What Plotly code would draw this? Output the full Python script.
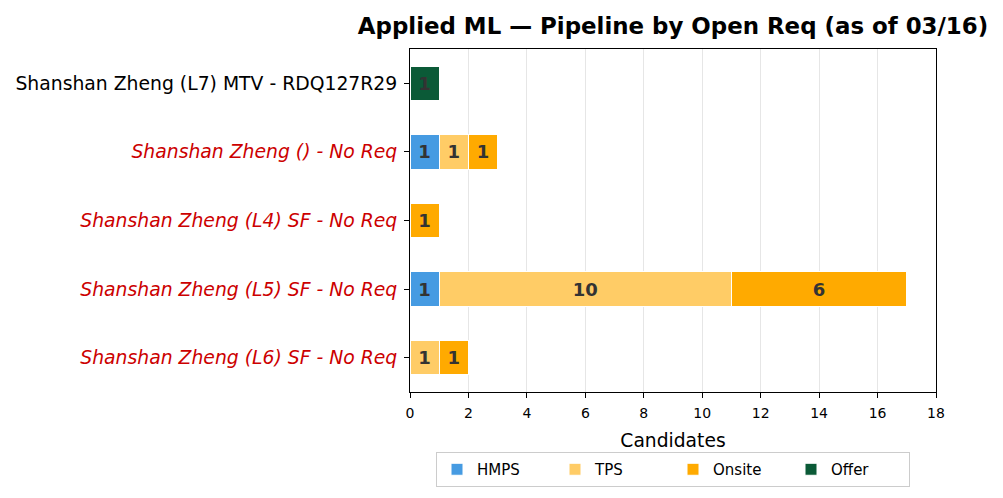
import plotly.graph_objects as go

categories = [
    "Shanshan Zheng (L7) MTV - RDQ127R29",
    "Shanshan Zheng () - No Req",
    "Shanshan Zheng (L4) SF - No Req",
    "Shanshan Zheng (L5) SF - No Req",
    "Shanshan Zheng (L6) SF - No Req",
]
no_req = [False, True, True, True, True]
hmps = [0, 1, 0, 1, 0]
tps = [0, 1, 0, 10, 1]
onsite = [0, 1, 1, 6, 1]
offer = [1, 0, 0, 0, 0]

series = [
    ("HMPS", hmps, "#469BE2"),
    ("TPS", tps, "#FFCC66"),
    ("Onsite", onsite, "#FFAA00"),
    ("Offer", offer, "#0B5A37"),
]

ypos = list(range(len(categories)))
ticktext = [
    f"<span style='color:#cc0000'><i>{c}</i></span>" if nr else c
    for c, nr in zip(categories, no_req)
]

fig = go.Figure()
for name, vals, color in series:
    fig.add_trace(go.Bar(
        name=name,
        y=ypos,
        x=[v if v else None for v in vals],
        orientation="h",
        width=0.5,
        marker=dict(color=color, line=dict(color="white", width=1)),
        text=[str(v) if v else "" for v in vals],
        textposition="inside",
        insidetextanchor="middle",
        textangle=0,
        textfont=dict(family="DejaVu Sans", size=18, color="#333333", weight="bold"),
        hoverinfo="skip",
    ))

fig.update_layout(
    barmode="stack",
    width=1003, height=498,
    margin=dict(l=402, r=75, t=41, b=114),
    paper_bgcolor="white",
    plot_bgcolor="white",
    font=dict(family="DejaVu Sans", color="black"),
    title=dict(
        text="<b>Applied ML — Pipeline by Open Req (as of 03/16)</b>",
        x=0.5, xref="paper", xanchor="center",
        y=1 - 18 / 498, yref="container", yanchor="middle",
        font=dict(size=22.9, family="DejaVu Sans", color="black"),
    ),
    uniformtext=dict(minsize=8, mode="show"),
    legend=dict(
        orientation="h",
        x=0.5, xanchor="center",
        y=-0.175, yanchor="top",
        bordercolor="#cccccc", borderwidth=1,
        font=dict(size=15, family="DejaVu Sans"),
        traceorder="normal",
        entrywidth=73,
    ),
)
fig.update_xaxes(
    range=[0, 18], dtick=2, tick0=0,
    showgrid=True, gridcolor="#e6e6e6", gridwidth=1,
    showline=True, linecolor="black", linewidth=1, mirror=True,
    ticks="outside", ticklen=5, tickcolor="black",
    tickfont=dict(size=14),
    ticklabelstandoff=3,
    title=dict(text="Candidates", font=dict(size=18.7), standoff=14),
    zeroline=False,
    automargin=False,
)
fig.update_yaxes(
    range=[4.5, -0.5],
    tickvals=ypos, ticktext=ticktext,
    showgrid=False,
    showline=True, linecolor="black", linewidth=1, mirror=True,
    ticks="outside", ticklen=5, tickcolor="black",
    tickfont=dict(size=18.8),
    ticklabelstandoff=3,
    zeroline=False,
    automargin=False,
)

fig.write_html("out.html")
